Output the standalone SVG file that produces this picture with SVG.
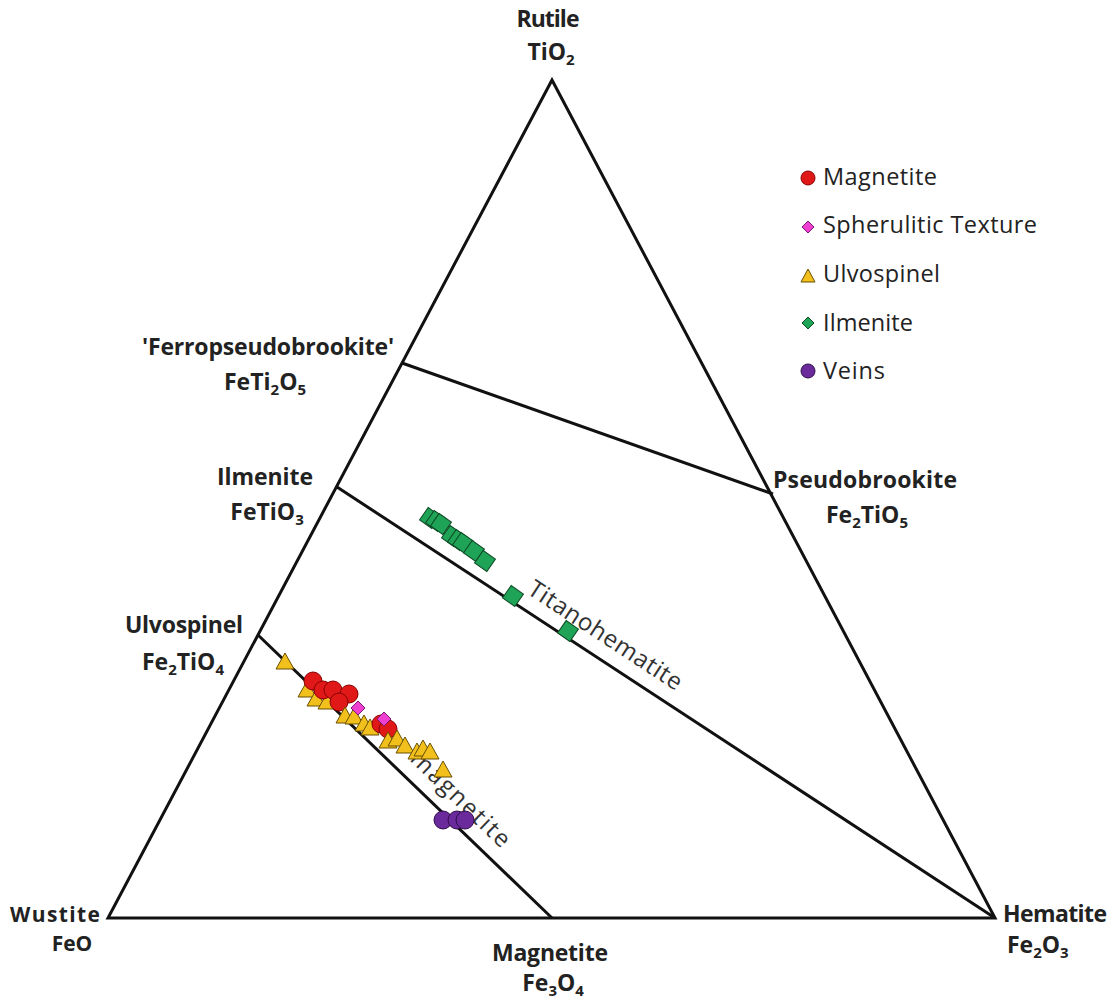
<svg xmlns="http://www.w3.org/2000/svg" width="1118" height="1005" viewBox="0 0 1118 1005">
<style>
.lbl{font-family:"Open Sans","Liberation Sans",sans-serif;font-weight:bold;font-size:23px;fill:#222}
.lbl tspan.s{font-size:15px}
.leg{font-family:"Open Sans","Liberation Sans",sans-serif;font-size:23.5px;fill:#222}
.rot{font-family:"Open Sans","Liberation Sans",sans-serif;font-size:24px;fill:#333}
.edge{stroke:#111;stroke-width:3;fill:none;stroke-linejoin:miter}
.mag{fill:#e01818;stroke:#8a0000;stroke-width:1}
.sph{fill:#ee3fd0;stroke:#7a1a70;stroke-width:1}
.ulv{fill:#f2c01c;stroke:#6a5000;stroke-width:1}
.ilm{fill:#1fa357;stroke:#0d4a24;stroke-width:1}
.vei{fill:#6a2a9c;stroke:#2c0c48;stroke-width:1}
</style>
<defs>
<circle id="c" r="9"/>
<rect id="sq" x="-7.5" y="-7.5" width="15" height="15" transform="rotate(35)"/>
<path id="tri" d="M0,-9 L9,7 L-9,7 Z"/>
<path id="dia" d="M0,-7 L7,0 L0,7 L-7,0 Z"/>
</defs>
<rect width="1118" height="1005" fill="#fff"/>
<g id="connectors">
<path class="edge" d="M552,80 L108,918 L995,918 Z"/>
<line class="edge" x1="402" y1="363" x2="773" y2="494"/>
<line class="edge" x1="337" y1="487" x2="995" y2="918"/>
<line class="edge" x1="258" y1="635" x2="552" y2="918"/>
</g>
<g id="labels">
<g id="node-rutile"><text class="lbl" x="548" y="27" text-anchor="middle" textLength="63">Rutile</text><text class="lbl" x="551" y="60" text-anchor="middle">TiO<tspan class="s" dy="5">2</tspan></text></g>
<g id="node-ferro"><text class="lbl" x="268" y="355" text-anchor="middle" textLength="252">'Ferropseudobrookite'</text><text class="lbl" x="265" y="390" text-anchor="middle">FeTi<tspan class="s" dy="5">2</tspan><tspan dy="-5">O</tspan><tspan class="s" dy="5">5</tspan></text></g>
<g id="node-ilmenite"><text class="lbl" x="265" y="485" text-anchor="middle" textLength="96">Ilmenite</text><text class="lbl" x="267" y="520" text-anchor="middle">FeTiO<tspan class="s" dy="5">3</tspan></text></g>
<g id="node-ulvospinel"><text class="lbl" x="184" y="633" text-anchor="middle" textLength="118">Ulvospinel</text><text class="lbl" x="183" y="670" text-anchor="middle">Fe<tspan class="s" dy="5">2</tspan><tspan dy="-5">TiO</tspan><tspan class="s" dy="5">4</tspan></text></g>
<g id="node-pseudobrookite"><text class="lbl" x="773" y="488" textLength="184">Pseudobrookite</text><text class="lbl" x="867" y="523" text-anchor="middle">Fe<tspan class="s" dy="5">2</tspan><tspan dy="-5">TiO</tspan><tspan class="s" dy="5">5</tspan></text></g>
<g id="node-wustite"><text class="lbl" style="font-size:21px" x="10" y="922" textLength="90">Wustite</text><text class="lbl" style="font-size:21px" x="72" y="951" text-anchor="middle">FeO</text></g>
<g id="node-magnetite"><text class="lbl" x="550" y="961" text-anchor="middle" textLength="116">Magnetite</text><text class="lbl" x="553" y="991" text-anchor="middle">Fe<tspan class="s" dy="5">3</tspan><tspan dy="-5">O</tspan><tspan class="s" dy="5">4</tspan></text></g>
<g id="node-hematite"><text class="lbl" x="1003" y="922" textLength="104">Hematite</text><text class="lbl" x="1007" y="953">Fe<tspan class="s" dy="5">2</tspan><tspan dy="-5">O</tspan><tspan class="s" dy="5">3</tspan></text></g>
<text class="rot" transform="translate(526,593) rotate(33.2)" textLength="179">Titanohematite</text>
<text class="rot" transform="translate(409,760) rotate(44)" textLength="128">magnetite</text>
</g>
<g id="data">
<g class="ilm">
<use href="#sq" x="430" y="518"/><use href="#sq" x="436" y="521"/><use href="#sq" x="441" y="524"/>
<use href="#sq" x="452" y="536"/><use href="#sq" x="458" y="540"/><use href="#sq" x="463" y="543"/>
<use href="#sq" x="474" y="551"/><use href="#sq" x="485" y="561"/>
<use href="#sq" x="513" y="596"/><use href="#sq" x="568" y="631"/>
</g>
<g class="ulv">
<use href="#tri" x="285" y="662"/><use href="#tri" x="307" y="690"/><use href="#tri" x="316" y="699"/>
<use href="#tri" x="327" y="702"/>
</g>
<g class="mag">
<use href="#c" x="313" y="681"/><use href="#c" x="323" y="690"/><use href="#c" x="333" y="690"/>
<use href="#c" x="349" y="694"/><use href="#c" x="339" y="702"/>
</g>
<g class="ulv">
<use href="#tri" x="345" y="716"/><use href="#tri" x="354" y="717"/><use href="#tri" x="364" y="724"/>
<use href="#tri" x="370" y="728"/>
</g>
<g class="sph"><use href="#dia" x="358" y="708"/></g>
<g class="mag"><use href="#c" x="381" y="724"/><use href="#c" x="388" y="729"/></g>
<g class="sph"><use href="#dia" x="384" y="719"/></g>
<g class="ulv">
<use href="#tri" x="388" y="741"/><use href="#tri" x="397" y="739"/><use href="#tri" x="405" y="746"/>
<use href="#tri" x="417" y="752"/><use href="#tri" x="423" y="749"/><use href="#tri" x="430" y="752"/>
<use href="#tri" x="443" y="770"/>
</g>
<g class="vei">
<use href="#c" x="443" y="820"/><use href="#c" x="457" y="820"/><use href="#c" x="465" y="820"/>
</g>
</g>
<g id="legend">
<g id="leg-magnetite"><circle class="mag" cx="808" cy="178" r="7"/><text class="leg" x="823" y="185" textLength="114">Magnetite</text></g>
<g id="leg-spherulitic"><path class="sph" d="M808,221 L814,227 L808,233 L802,227 Z"/><text class="leg" x="823" y="233" textLength="214">Spherulitic Texture</text></g>
<g id="leg-ulvospinel"><path class="ulv" d="M808,269 L815,282 L801,282 Z"/><text class="leg" x="823" y="282" textLength="117">Ulvospinel</text></g>
<g id="leg-ilmenite"><path class="ilm" d="M808,317 L814,323 L808,329 L802,323 Z"/><text class="leg" x="823" y="331" textLength="90">Ilmenite</text></g>
<g id="leg-veins"><circle class="vei" cx="808" cy="371" r="7"/><text class="leg" x="823" y="379" textLength="62">Veins</text></g>
</g>
</svg>
